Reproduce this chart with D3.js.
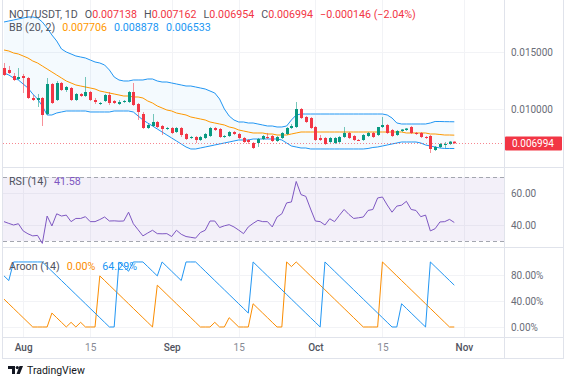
<!DOCTYPE html>
<html>
<head>
<meta charset="utf-8">
<script src="https://cdn.jsdelivr.net/npm/d3@7"></script>
<style>
    body { margin: 0; background: #fff; }
    svg text { font-family: Roboto, "Noto Sans", sans-serif; }
</style>
</head>
<body>
<div id="chart"></div>
<script>
// NOT/USDT daily candles, 2024-07-28 .. 2024-10-30
var firstDay = new Date(2024, 6, 28);

var opens = [0.013596,0.013421,0.012895,0.012632,0.012895,0.012719,0.010965,0.010789,0.010965,0.009561,
    0.012193,0.010789,0.012281,0.011667,0.011842,0.010789,0.011316,0.011140,0.011491,0.010789,
    0.010439,0.010702,0.011228,0.010702,0.010439,0.010614,0.010614,0.011491,0.010439,0.009561,
    0.008333,0.008509,0.008860,0.008509,0.008246,0.008333,0.007982,0.008333,0.007807,0.007456,
    0.007544,0.007281,0.007456,0.007632,0.008333,0.008246,0.007544,0.007632,0.007982,0.007807,
    0.007456,0.007281,0.007018,0.007018,0.007368,0.007544,0.007632,0.007193,0.007456,0.007807,
    0.008333,0.008421,0.010000,0.009298,0.009211,0.008421,0.007456,0.007456,0.007105,0.007018,
    0.007105,0.007544,0.007895,0.007632,0.007281,0.007281,0.007632,0.007895,0.007719,0.008421,
    0.008597,0.008158,0.007719,0.008070,0.008158,0.008421,0.007895,0.007895,0.007544,0.007632,
    0.006404,0.006667,0.006886,0.006930,0.007138];
var highs = [0.014035,0.013772,0.013158,0.013596,0.013070,0.012807,0.011228,0.011316,0.011053,0.012719,
    0.012281,0.012456,0.012368,0.012017,0.011930,0.011403,0.011403,0.012807,0.011579,0.010965,
    0.010614,0.011316,0.011491,0.010789,0.010789,0.010789,0.011579,0.012281,0.010526,0.009737,
    0.008684,0.009561,0.008947,0.008597,0.008421,0.008421,0.008421,0.008421,0.007895,0.007632,
    0.007632,0.007632,0.007895,0.008421,0.008421,0.008333,0.007719,0.008070,0.008070,0.007895,
    0.007544,0.007368,0.007105,0.007456,0.007719,0.007895,0.007719,0.007632,0.007982,0.008421,
    0.008684,0.010614,0.010088,0.009386,0.009298,0.008509,0.007719,0.007544,0.007544,0.007544,
    0.007632,0.008421,0.007982,0.007719,0.007368,0.007807,0.007982,0.007982,0.008421,0.009298,
    0.008684,0.008246,0.008158,0.008246,0.008333,0.008509,0.007982,0.007982,0.007632,0.007719,
    0.006754,0.007018,0.007105,0.007193,0.007162];
var lows = [0.012895,0.013070,0.012456,0.012544,0.011403,0.010877,0.010702,0.010175,0.008509,0.009474,
    0.010439,0.010702,0.011579,0.011491,0.010702,0.010702,0.011053,0.011053,0.010702,0.010439,
    0.010351,0.010614,0.010351,0.010439,0.010351,0.010526,0.010526,0.010263,0.009035,0.008246,
    0.008246,0.008421,0.008333,0.007719,0.008158,0.007807,0.007895,0.007544,0.007281,0.007368,
    0.007018,0.007193,0.007368,0.007544,0.008070,0.007456,0.007456,0.007544,0.007719,0.007368,
    0.007018,0.006930,0.006491,0.006667,0.007281,0.007368,0.007105,0.007105,0.007368,0.007719,
    0.008246,0.008333,0.009123,0.008772,0.008246,0.007193,0.007193,0.006842,0.007018,0.006930,
    0.007018,0.007456,0.007368,0.007193,0.007193,0.007193,0.007544,0.007456,0.007632,0.008333,
    0.007807,0.007544,0.007632,0.007982,0.008070,0.007807,0.007719,0.007456,0.007368,0.006140,
    0.006316,0.006579,0.006579,0.006842,0.006954];
var closes = [0.012982,0.013158,0.012544,0.012807,0.012719,0.010965,0.010789,0.010965,0.009474,0.012193,
    0.010526,0.012281,0.011667,0.011930,0.010789,0.011316,0.011140,0.011491,0.010789,0.010614,
    0.010526,0.011228,0.010526,0.010526,0.010614,0.010702,0.011491,0.010351,0.009737,0.008333,
    0.008597,0.008860,0.008421,0.008246,0.008333,0.007895,0.008333,0.007719,0.007368,0.007544,
    0.007281,0.007544,0.007807,0.008333,0.008158,0.007544,0.007632,0.007982,0.007807,0.007456,
    0.007105,0.007105,0.006579,0.007368,0.007632,0.007456,0.007193,0.007544,0.007895,0.008333,
    0.008509,0.010000,0.009211,0.008860,0.008333,0.007281,0.007281,0.006930,0.007456,0.007456,
    0.007544,0.007895,0.007456,0.007281,0.007237,0.007719,0.007895,0.007544,0.008421,0.008597,
    0.007895,0.007632,0.008070,0.008202,0.008289,0.007895,0.007807,0.007544,0.007456,0.006491,
    0.006667,0.006930,0.006930,0.007140,0.006994];

// Bollinger Bands (20, 2)
var bbUpper = [0.017632,0.017719,0.017807,0.017895,0.017982,0.018070,0.018070,0.017982,0.017632,0.017105,
    0.016491,0.015965,0.015263,0.015000,0.014825,0.014649,0.014561,0.014474,0.014298,0.014123,
    0.014035,0.013860,0.013421,0.012807,0.012544,0.012456,0.012456,0.012544,0.012544,0.012544,
    0.012632,0.012632,0.012456,0.012368,0.012368,0.012281,0.012193,0.012105,0.012017,0.012017,
    0.011930,0.011842,0.011754,0.011579,0.011403,0.010877,0.010000,0.009386,0.009035,0.008860,
    0.008860,0.008772,0.008772,0.008684,0.008597,0.008509,0.008509,0.008421,0.008421,0.008509,
    0.009035,0.009474,0.009561,0.009561,0.009561,0.009561,0.009561,0.009561,0.009561,0.009561,
    0.009561,0.009561,0.009561,0.009561,0.009561,0.009561,0.009561,0.009561,0.009561,0.009561,
    0.009474,0.009211,0.008772,0.008684,0.008684,0.008684,0.008684,0.008684,0.008684,0.008772,
    0.008904,0.008904,0.008890,0.008885,0.008878];
var bbBasis = [0.015175,0.015088,0.014912,0.014825,0.014649,0.014474,0.014211,0.014035,0.013772,0.013509,
    0.013246,0.012982,0.012719,0.012456,0.012281,0.012105,0.012017,0.011930,0.011842,0.011754,
    0.011579,0.011491,0.011403,0.011316,0.011228,0.011140,0.011140,0.011053,0.011053,0.010965,
    0.010702,0.010526,0.010263,0.010088,0.009912,0.009825,0.009649,0.009561,0.009474,0.009298,
    0.009211,0.009123,0.009035,0.008860,0.008772,0.008684,0.008597,0.008421,0.008333,0.008158,
    0.008070,0.007982,0.007895,0.007895,0.007895,0.007807,0.007807,0.007719,0.007719,0.007719,
    0.007807,0.007895,0.007982,0.007982,0.007982,0.007982,0.007982,0.007982,0.007982,0.007982,
    0.007982,0.007982,0.007982,0.007982,0.007982,0.007982,0.007982,0.007982,0.007982,0.007982,
    0.007982,0.007982,0.007982,0.007982,0.007895,0.007895,0.007895,0.007895,0.007895,0.007807,
    0.007807,0.007763,0.007719,0.007719,0.007706];
var bbLower = [0.013158,0.012982,0.012719,0.012544,0.012193,0.011842,0.011316,0.010877,0.010263,0.009474,
    0.009474,0.009649,0.009737,0.009825,0.009825,0.009825,0.009825,0.009825,0.009737,0.009737,
    0.009737,0.009737,0.009737,0.009825,0.009825,0.009825,0.009825,0.009737,0.009386,0.009035,
    0.008772,0.008509,0.008246,0.007982,0.007719,0.007456,0.007193,0.006930,0.006667,0.006491,
    0.006491,0.006579,0.006667,0.006754,0.006842,0.006930,0.007018,0.007105,0.007193,0.007281,
    0.007281,0.007281,0.007368,0.007368,0.007368,0.007368,0.007368,0.007368,0.007281,0.007018,
    0.006754,0.006667,0.006579,0.006579,0.006491,0.006491,0.006491,0.006491,0.006491,0.006491,
    0.006491,0.006491,0.006491,0.006491,0.006491,0.006491,0.006535,0.006623,0.006667,0.006754,
    0.006842,0.006930,0.007018,0.007105,0.007105,0.007105,0.007105,0.007018,0.006842,0.006754,
    0.006667,0.006579,0.006535,0.006535,0.006533];

// RSI (14)
var rsiValues = [42.1,41.0,40.0,40.8,36.3,34.5,33.2,33.5,28.5,45.6,
    39.4,47.0,45.6,46.2,42.1,44.1,44.1,45.2,42.1,42.1,
    43.4,45.0,42.5,42.6,42.4,42.5,48.0,40.8,37.0,33.2,
    35.0,36.7,34.6,34.5,34.6,32.8,36.7,34.2,32.8,32.3,
    31.8,35.3,36.7,42.5,42.5,38.4,39.5,40.2,38.8,36.8,
    34.6,38.8,41.0,42.9,42.1,42.1,38.8,45.0,47.0,53.8,
    54.4,67.2,59.0,57.9,50.0,42.5,42.1,40.0,43.9,42.1,
    46.0,49.7,46.6,44.1,44.5,45.0,49.1,49.7,56.9,57.5,
    52.5,48.0,51.8,52.4,54.8,49.7,49.1,45.2,46.2,36.3,
    37.7,41.9,42.1,43.5,41.58];

// Aroon (14)
var aroonUp = [42.86,35.71,28.57,21.43,14.29,7.14,0,0,0,0,
    21.43,14.29,7.14,0,7.14,0,7.14,0,0,0,
    78.57,71.43,64.29,57.14,50,42.86,35.71,28.57,21.43,14.29,
    7.14,0,64.29,57.14,50,42.86,35.71,28.57,21.43,14.29,
    7.14,0,0,0,7.14,0,0,14.29,7.14,0,
    0,0,35.71,28.57,21.43,14.29,7.14,0,0,100,
    92.86,100,92.86,85.71,78.57,71.43,64.29,57.14,50,42.86,
    35.71,28.57,21.43,14.29,7.14,0,0,0,0,100,
    92.86,85.71,78.57,71.43,64.29,57.14,50,42.86,35.71,28.57,
    21.43,14.29,7.14,0,0];
var aroonDown = [78.57,71.43,100,100,100,100,100,100,100,92.86,
    85.71,78.57,71.43,64.29,57.14,50,42.86,35.71,28.57,21.43,
    14.29,7.14,0,0,100,92.86,85.71,100,100,100,
    92.86,85.71,78.57,100,92.86,85.71,78.57,71.43,100,100,
    100,92.86,85.71,78.57,71.43,64.29,57.14,50,42.86,35.71,
    28.57,21.43,100,92.86,85.71,78.57,71.43,64.29,57.14,50,
    42.86,35.71,28.57,21.43,14.29,7.14,0,100,92.86,85.71,
    78.57,71.43,64.29,57.14,50,42.86,35.71,28.57,21.43,14.29,
    7.14,0,0,35.71,28.57,21.43,14.29,7.14,0,100,
    92.86,85.71,78.57,71.43,64.29];

var priceTicks = [0.010, 0.015];
var rsiTicks = [40, 60];
var aroonTicks = [0, 40, 80];
var dateTicks = ["2024-08-01", "2024-08-15", "2024-09-01", "2024-09-15", "2024-10-01", "2024-10-15", "2024-11-01"];

// ---------------------------------------------------------------------
var width = 566, height = 382;
var left = 3, right = 504;
var mainBottom = 167, rsiBottom = 247, aroonBottom = 337, axisBottom = 358;
var upColor = "#089981", downColor = "#f23645";
var gridColor = "#f2f3f6", lineColor = "#e0e3eb", textColor = "#50535e";
var legendSize = "10.7px";

var parseDay = d3.timeParse("%Y-%m-%d");
var days = opens.map(function (d, i) { return d3.timeDay.offset(firstDay, i); });
var candles = days.map(function (d, i) {
    return { date: d, o: opens[i], h: highs[i], l: lows[i], c: closes[i] };
});

var x = d3.scaleTime()
    .domain([firstDay, d3.timeDay.offset(firstDay, 104)])
    .range([4, 502.2]);
var yPrice = d3.scaleLinear().domain([0.004912, 0.019561]).range([mainBottom, 0]);
var yRsi = d3.scaleLinear().domain([26.25, 76.25]).range([rsiBottom, mainBottom]);
var yAroon = d3.scaleLinear().domain([-15.4, 123]).range([aroonBottom, rsiBottom]);

var svg = d3.select("#chart").append("svg")
    .attr("width", width)
    .attr("height", height);

svg.append("rect").attr("width", width).attr("height", height).attr("fill", "#fff");

var defs = svg.append("defs");
function addClip(id, y0, y1) {
    defs.append("clipPath").attr("id", id)
        .append("rect").attr("x", left).attr("y", y0).attr("width", right - left).attr("height", y1 - y0);
}
addClip("clipMain", 0, mainBottom);
addClip("clipRsi", mainBottom, rsiBottom);
addClip("clipAroon", rsiBottom, aroonBottom);

// grid lines
var grid = svg.append("g");
dateTicks.forEach(function (t) {
    var gx = Math.round(x(parseDay(t))) + 0.5;
    grid.append("line").attr("x1", gx).attr("x2", gx).attr("y1", 0).attr("y2", aroonBottom)
        .attr("stroke", gridColor);
});
function hGrid(scale, ticks) {
    ticks.forEach(function (t) {
        var gy = Math.round(scale(t)) + 0.5;
        grid.append("line").attr("x1", left).attr("x2", right).attr("y1", gy).attr("y2", gy)
            .attr("stroke", gridColor);
    });
}
hGrid(yPrice, priceTicks);
hGrid(yRsi, rsiTicks);
hGrid(yAroon, aroonTicks);

// ----- main pane -----
var main = svg.append("g").attr("clip-path", "url(#clipMain)");

var bandArea = d3.area()
    .x(function (d, i) { return x(days[i]); })
    .y0(function (d, i) { return yPrice(bbLower[i]); })
    .y1(function (d, i) { return yPrice(bbUpper[i]); });
main.append("path").datum(bbUpper).attr("d", bandArea)
    .attr("fill", "rgba(33,150,243,0.05)");

function bandLine(values, color) {
    var line = d3.line()
        .x(function (d, i) { return x(days[i]); })
        .y(function (d) { return yPrice(d); });
    main.append("path").datum(values).attr("d", line)
        .attr("fill", "none").attr("stroke", color).attr("stroke-width", 1);
}
bandLine(bbUpper, "#2196f3");
bandLine(bbLower, "#2196f3");
bandLine(bbBasis, "#ff9800");

// last price line
var lastClose = closes[closes.length - 1];
var lastY = Math.round(yPrice(lastClose)) + 0.5;
svg.append("line").attr("x1", left).attr("x2", right).attr("y1", lastY).attr("y2", lastY)
    .attr("stroke", downColor).attr("stroke-opacity", 0.6)
    .attr("stroke-dasharray", "1,2").attr("stroke-width", 1);

var candleG = main.selectAll(".candle")
    .data(candles)
    .enter().append("g")
    .attr("class", "candle");

candleG.append("line")
    .attr("x1", function (d) { return Math.round(x(d.date)) + 0.5; })
    .attr("x2", function (d) { return Math.round(x(d.date)) + 0.5; })
    .attr("y1", function (d) { return yPrice(d.h); })
    .attr("y2", function (d) { return yPrice(d.l); })
    .attr("stroke", function (d) { return d.c >= d.o ? upColor : downColor; })
    .attr("stroke-opacity", 0.55);

candleG.append("rect")
    .attr("x", function (d) { return Math.round(x(d.date)) - 1; })
    .attr("width", 3)
    .attr("y", function (d) { return yPrice(Math.max(d.o, d.c)); })
    .attr("height", function (d) { return Math.max(1, Math.abs(yPrice(d.o) - yPrice(d.c))); })
    .attr("fill", function (d) { return d.c >= d.o ? upColor : downColor; });

// ----- RSI pane -----
var rsiG = svg.append("g").attr("clip-path", "url(#clipRsi)");
rsiG.append("rect")
    .attr("x", left).attr("width", right - left)
    .attr("y", yRsi(70)).attr("height", yRsi(30) - yRsi(70))
    .attr("fill", "rgba(126,87,194,0.09)");
[70, 30].forEach(function (lv) {
    rsiG.append("line").attr("x1", left).attr("x2", right)
        .attr("y1", Math.round(yRsi(lv)) + 0.5).attr("y2", Math.round(yRsi(lv)) + 0.5)
        .attr("stroke", "#a3a6af").attr("stroke-dasharray", "4,3");
});
rsiG.append("path").datum(rsiValues)
    .attr("d", d3.line()
        .x(function (d, i) { return x(days[i]); })
        .y(function (d) { return yRsi(d); }))
    .attr("fill", "none").attr("stroke", "#7e57c2").attr("stroke-width", 1);

// ----- Aroon pane -----
var aroonG = svg.append("g").attr("clip-path", "url(#clipAroon)");
function aroonLine(values, color) {
    aroonG.append("path").datum(values)
        .attr("d", d3.line()
            .x(function (d, i) { return x(days[i]); })
            .y(function (d) { return yAroon(d); }))
        .attr("fill", "none").attr("stroke", color).attr("stroke-width", 1);
}
aroonLine(aroonUp, "#fb8c00");
aroonLine(aroonDown, "#2196f3");

// ----- frame and separators -----
var frame = svg.append("g").attr("stroke", lineColor).attr("fill", "none");
frame.append("rect").attr("x", 2.5).attr("y", -1).attr("width", 561).attr("height", axisBottom + 1.5);
[mainBottom, rsiBottom, aroonBottom].forEach(function (yy) {
    frame.append("line").attr("x1", 3).attr("x2", 563).attr("y1", yy + 0.5).attr("y2", yy + 0.5);
});
frame.append("line").attr("x1", right + 0.5).attr("x2", right + 0.5).attr("y1", 0).attr("y2", axisBottom);

// ----- axes -----
function rightAxis(scale, ticks, fmt) {
    var g = svg.append("g")
        .attr("transform", "translate(" + right + ",0)")
        .call(d3.axisRight(scale).tickValues(ticks).tickSize(0).tickPadding(7).tickFormat(fmt));
    g.select(".domain").remove();
    g.selectAll("text").attr("fill", "#6a6d78").attr("font-size", "10px");
}
rightAxis(yPrice, priceTicks, d3.format(".6f"));
rightAxis(yRsi, rsiTicks, d3.format(".2f"));
rightAxis(yAroon, aroonTicks, function (d) { return d3.format(".2f")(d) + "%"; });

var xAxis = svg.append("g")
    .attr("transform", "translate(0," + aroonBottom + ")")
    .call(d3.axisBottom(x)
        .tickValues(dateTicks.map(parseDay))
        .tickSize(0).tickPadding(7)
        .tickFormat(function (d) { return d.getDate() === 1 ? d3.timeFormat("%b")(d) : d.getDate(); }));
xAxis.select(".domain").remove();
xAxis.selectAll("text")
    .attr("font-size", "10px")
    .attr("fill", function (d) { return d.getDate() === 1 ? "#50535e" : "#878a94"; })
    .attr("font-weight", function (d) { return d.getDate() === 1 ? 500 : 400; });

// last price label
svg.append("rect").attr("x", right + 1).attr("y", lastY - 7).attr("width", 57).attr("height", 14)
    .attr("fill", downColor).attr("rx", 1);
svg.append("text").attr("x", right + 8).attr("y", lastY + 3.5)
    .attr("font-size", "10px").attr("fill", "#fff")
    .text(d3.format(".6f")(lastClose));

// ----- legends -----
function legend(y, parts) {
    var t = svg.append("text").attr("x", 9).attr("y", y).attr("font-size", legendSize);
    parts.forEach(function (p) {
        t.append("tspan").attr("dx", p.gap || 0).attr("fill", p.color).text(p.text);
    });
}
var last = closes.length - 1;
var change = closes[last] - closes[last - 1];
legend(18, [
    { text: "NOT/USDT, 1D", color: textColor },
    { text: "O", color: textColor, gap: 7 }, { text: d3.format(".6f")(opens[last]), color: downColor },
    { text: "H", color: textColor, gap: 7 }, { text: d3.format(".6f")(highs[last]), color: downColor },
    { text: "L", color: textColor, gap: 7 }, { text: d3.format(".6f")(lows[last]), color: downColor },
    { text: "C", color: textColor, gap: 7 }, { text: d3.format(".6f")(closes[last]), color: downColor },
    { text: "\u2212" + d3.format(".6f")(-change) + " (\u2212" + d3.format(".2f")(-change / closes[last - 1] * 100) + "%)", color: downColor, gap: 7 }
]);
legend(31, [
    { text: "BB (20, 2)", color: textColor },
    { text: d3.format(".6f")(bbBasis[last]), color: "#ff9800", gap: 7 },
    { text: d3.format(".6f")(bbUpper[last]), color: "#2196f3", gap: 7 },
    { text: d3.format(".6f")(bbLower[last]), color: "#2196f3", gap: 7 }
]);
legend(185, [
    { text: "RSI (14)", color: textColor },
    { text: d3.format(".2f")(rsiValues[last]), color: "#7e57c2", gap: 7 }
]);
legend(270, [
    { text: "Aroon (14)", color: textColor },
    { text: d3.format(".2f")(aroonUp[last]) + "%", color: "#fb8c00", gap: 7 },
    { text: d3.format(".2f")(aroonDown[last]) + "%", color: "#2196f3", gap: 7 }
]);

// ----- TradingView mark -----
var logo = svg.append("g").attr("fill", "#131722");
logo.append("path").attr("d", "M8,366h7v8h-3v-5h-4z");
logo.append("circle").attr("cx", 17.3).attr("cy", 367.6).attr("r", 1.6);
logo.append("path").attr("d", "M19.5,366h3.5l-3.2,8h-3.3z");
svg.append("text").attr("x", 27).attr("y", 373.5)
    .attr("font-size", "10.5px").attr("fill", "#131722")
    .text("TradingView");
</script>
</body>
</html>
